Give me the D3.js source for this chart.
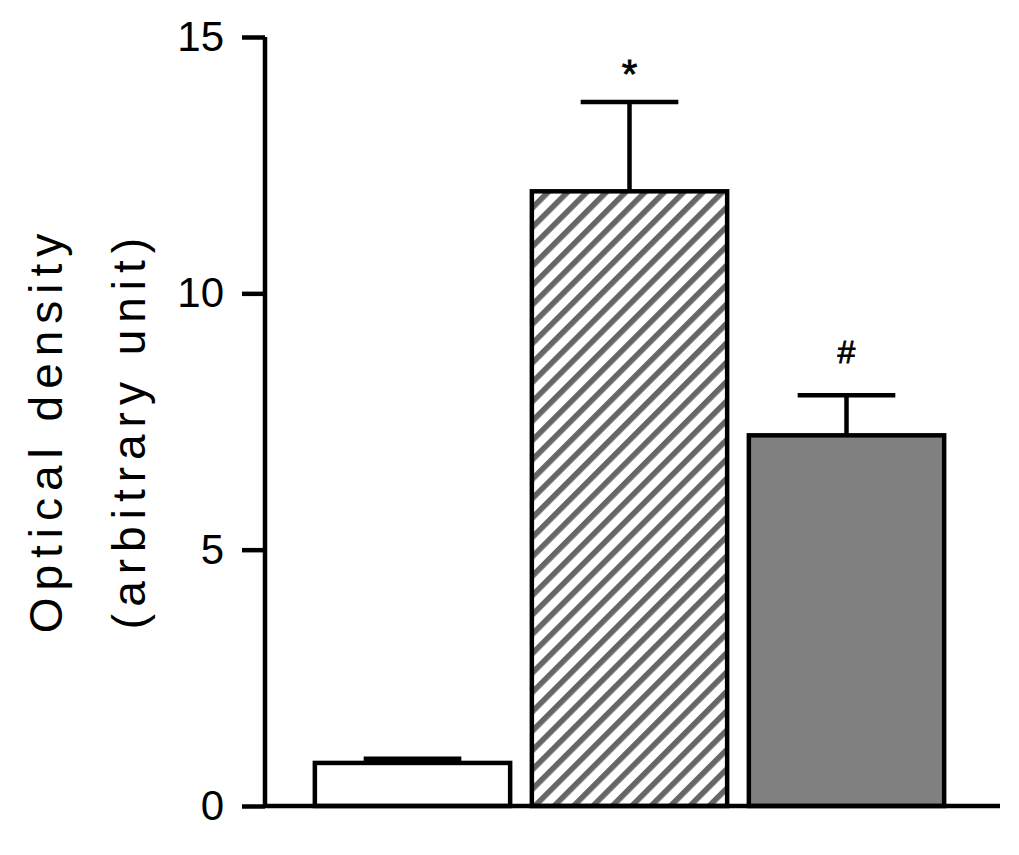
<!DOCTYPE html>
<html>
<head>
<meta charset="utf-8">
<script src="https://cdn.jsdelivr.net/npm/d3@7/dist/d3.min.js"></script>
<style>
  html, body { margin: 0; padding: 0; background: #fff; }
  svg { display: block; }
  text { font-family: "Liberation Sans", Arial, sans-serif; fill: #000; }
</style>
</head>
<body>
<svg id="chart" width="1019" height="855"></svg>
<script>
// ---- data ----
const categories = ["Control", "Treated", "Treated + drug"];
const values = [0.84, 11.99, 7.23];
const errors = [0.08, 1.74, 0.78];
const annotations = ["", "*", "#"];
const yTicks = [0, 5, 10, 15];
const yLabelLines = ["Optical density", "(arbitrary unit)"];

// ---- layout ----
const svg = d3.select("#chart");
const axisX = 265, axisYBottom = 806, axisYTop = 37, axisXEnd = 1000;

const y = d3.scaleLinear().domain([0, 15]).range([axisYBottom, axisYTop]);
const x = d3.scaleBand().domain(categories).range([304, 955])
  .paddingInner(0.1).paddingOuter(0.05);

const defs = svg.append("defs");
const pat = defs.append("pattern")
  .attr("id", "hatch")
  .attr("patternUnits", "userSpaceOnUse")
  .attr("width", 13.7).attr("height", 13.7)
  .attr("patternTransform", "rotate(45)");
pat.append("rect").attr("width", 13.7).attr("height", 13.7).attr("fill", "#fff");
pat.append("rect").attr("x", 0).attr("width", 5.6).attr("height", 13.7).attr("fill", "#666");

const fills = ["#ffffff", "url(#hatch)", "#808080"];

// error bars (drawn before bars so the bar outline covers the stem base)
const eb = svg.append("g").attr("stroke", "#000").attr("stroke-width", 4.5);
categories.forEach((c, i) => {
  const cx = x(c) + x.bandwidth() / 2;
  const capHalf = x.bandwidth() / 4;
  eb.append("line")
    .attr("x1", cx).attr("x2", cx)
    .attr("y1", y(values[i])).attr("y2", y(values[i] + errors[i]));
  eb.append("line")
    .attr("x1", cx - capHalf).attr("x2", cx + capHalf)
    .attr("y1", y(values[i] + errors[i])).attr("y2", y(values[i] + errors[i]));
});

// bars
svg.append("g").selectAll("rect")
  .data(categories)
  .join("rect")
  .attr("x", d => x(d))
  .attr("width", x.bandwidth())
  .attr("y", (d, i) => y(values[i]))
  .attr("height", (d, i) => y(0) - y(values[i]))
  .attr("fill", (d, i) => fills[i])
  .attr("stroke", "#000")
  .attr("stroke-width", 4.5);

// annotations
const annStyle = { "*": { size: 40, off: 14 }, "#": { size: 32, off: 32 } };
categories.forEach((c, i) => {
  const a = annotations[i];
  if (!a) return;
  svg.append("text")
    .attr("x", x(c) + x.bandwidth() / 2)
    .attr("y", y(values[i] + errors[i]) - annStyle[a].off)
    .attr("text-anchor", "middle")
    .attr("font-size", annStyle[a].size)
    .attr("stroke", "#000").attr("stroke-width", 0.8)
    .text(a);
});

// y axis
const yAxis = d3.axisLeft(y).tickValues(yTicks).tickSize(23).tickPadding(18)
  .tickFormat(d3.format("d"));
const gy = svg.append("g").attr("transform", `translate(${axisX},0)`).call(yAxis);
gy.select(".domain").attr("stroke-width", 4.5).attr("d", `M0,${axisYTop}V${axisYBottom}`);
gy.selectAll(".tick line").attr("stroke-width", 4.5);
gy.selectAll(".tick text")
  .attr("font-size", 42)
  .attr("font-family", "'Liberation Sans', Arial, sans-serif")
  .attr("fill", "#000");

// x axis line
svg.append("line")
  .attr("x1", axisX).attr("x2", axisXEnd)
  .attr("y1", y(0)).attr("y2", y(0))
  .attr("stroke", "#000").attr("stroke-width", 4.5);

// y label
const ylab = svg.append("text")
  .attr("transform", `translate(45,430) rotate(-90)`)
  .attr("text-anchor", "middle")
  .attr("font-size", 46)
  .attr("letter-spacing", 7);
yLabelLines.forEach((t, i) => {
  ylab.append("tspan")
    .attr("x", 0)
    .attr("dy", i === 0 ? "0.36em" : 83)
    .text(t);
});
</script>
</body>
</html>
